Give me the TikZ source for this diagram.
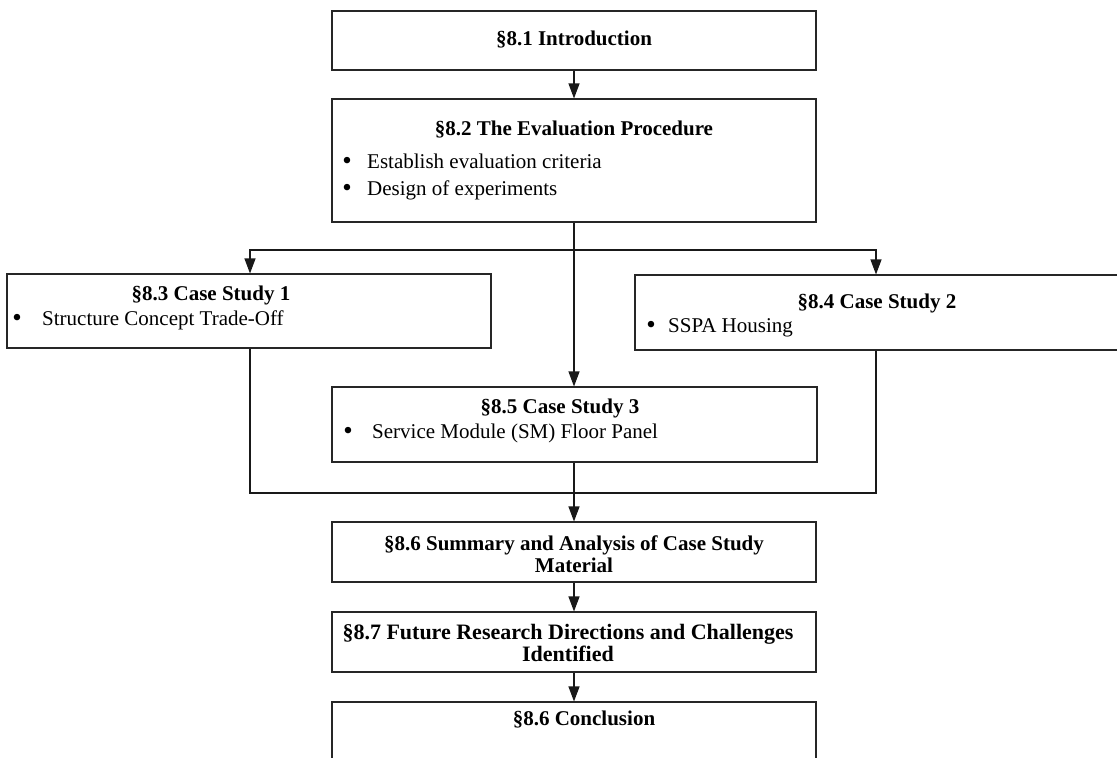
\documentclass[tikz,border=0pt]{standalone}
\usepackage{fontspec}
\setmainfont{Liberation Serif}
\usetikzlibrary{arrows.meta}
\begin{document}
\begin{tikzpicture}[x=1pt,y=-1pt,
  box/.style={draw=black!85,line width=1.1pt,inner sep=0pt,rectangle},
  txt/.style={inner sep=0pt,font=\fontsize{21}{22}\selectfont,text height=15pt,text depth=5pt},
  dot/.style={inner sep=0pt,font=\fontsize{27}{27}\selectfont},
  ttl/.style={inner sep=0pt,font=\fontsize{21}{22}\selectfont\bfseries,text height=15pt,text depth=5pt},
  mttl/.style={inner sep=0pt,font=\fontsize{21}{22}\selectfont\bfseries,align=center},
  conn/.style={line width=1.1pt,draw=black!90},
  arr/.style={conn,-{Triangle[width=11pt,length=15pt]}}]
\useasboundingbox (0,0) rectangle (1117,758);
% boxes
\node[box,minimum width=484pt,minimum height=59pt] (b1) at (574,40.5) {};
\node[box,minimum width=484pt,minimum height=123pt] (b2) at (574,160.5) {};
\node[box,minimum width=484pt,minimum height=74pt] (b3) at (249,311) {};
\node[box,minimum width=495pt,minimum height=75pt] (b4) at (882.5,312.5) {};
\node[box,minimum width=485pt,minimum height=75pt] (b5) at (574.5,424.5) {};
\node[box,minimum width=484pt,minimum height=60pt] (b6) at (574,552) {};
\node[box,minimum width=484pt,minimum height=60pt] (b7) at (574,642) {};
\node[box,minimum width=484pt,minimum height=80pt] (b8) at (574,742) {};
% texts
\node[ttl] (t1) at (574,40) {§8.1 Introduction};
\node[ttl] (t2) at (574,130) {§8.2 The Evaluation Procedure};
\node[dot] (d21) at (347,163) {•};
\node[txt,anchor=west] (e21) at (367,163) {Establish evaluation criteria};
\node[dot] (d22) at (347,190) {•};
\node[txt,anchor=west] (e22) at (367,190) {Design of experiments};
\node[ttl] (t3) at (211,295) {§8.3 Case Study 1};
\node[dot] (d3) at (17,320) {•};
\node[txt,anchor=west] (e3) at (42,320) {Structure Concept Trade-Off};
\node[ttl] (t4) at (877,303) {§8.4 Case Study 2};
\node[dot] (d4) at (651,327) {•};
\node[txt,anchor=west] (e4) at (668,327) {SSPA Housing};
\node[ttl] (t5) at (560,408) {§8.5 Case Study 3};
\node[dot] (d5) at (348,433) {•};
\node[txt,anchor=west] (e5) at (372,433) {Service Module (SM) Floor Panel};
\node[mttl] (t6) at (574,554) {§8.6 Summary and Analysis of Case Study\\Material};
\node[mttl,font=\fontsize{22}{22}\selectfont\bfseries] (t7) at (568,643) {§8.7 Future Research Directions and Challenges\\Identified};
\node[ttl] (t8) at (584,720) {§8.6 Conclusion};
% junctions
\coordinate (j1) at (574,250);
\coordinate (j2) at (574,493);
\coordinate (c3) at (250,0);
\coordinate (c4) at (876,0);
% connectors
\draw[arr] (b1.south) -- (b2.north);
\draw[arr] (b2.south) -- (b2.south |- b5.north);
\draw[arr] (j1) -| (c3 |- b3.north);
\draw[arr] (j1) -| (c4 |- b4.north);
\draw[conn] (c3 |- b3.south) |- (j2) -| (c4 |- b4.south);
\draw[arr] (b2.south |- b5.south) -- (b6.north);
\draw[arr] (b6.south) -- (b7.north);
\draw[arr] (b7.south) -- (b8.north);
\end{tikzpicture}
\end{document}
